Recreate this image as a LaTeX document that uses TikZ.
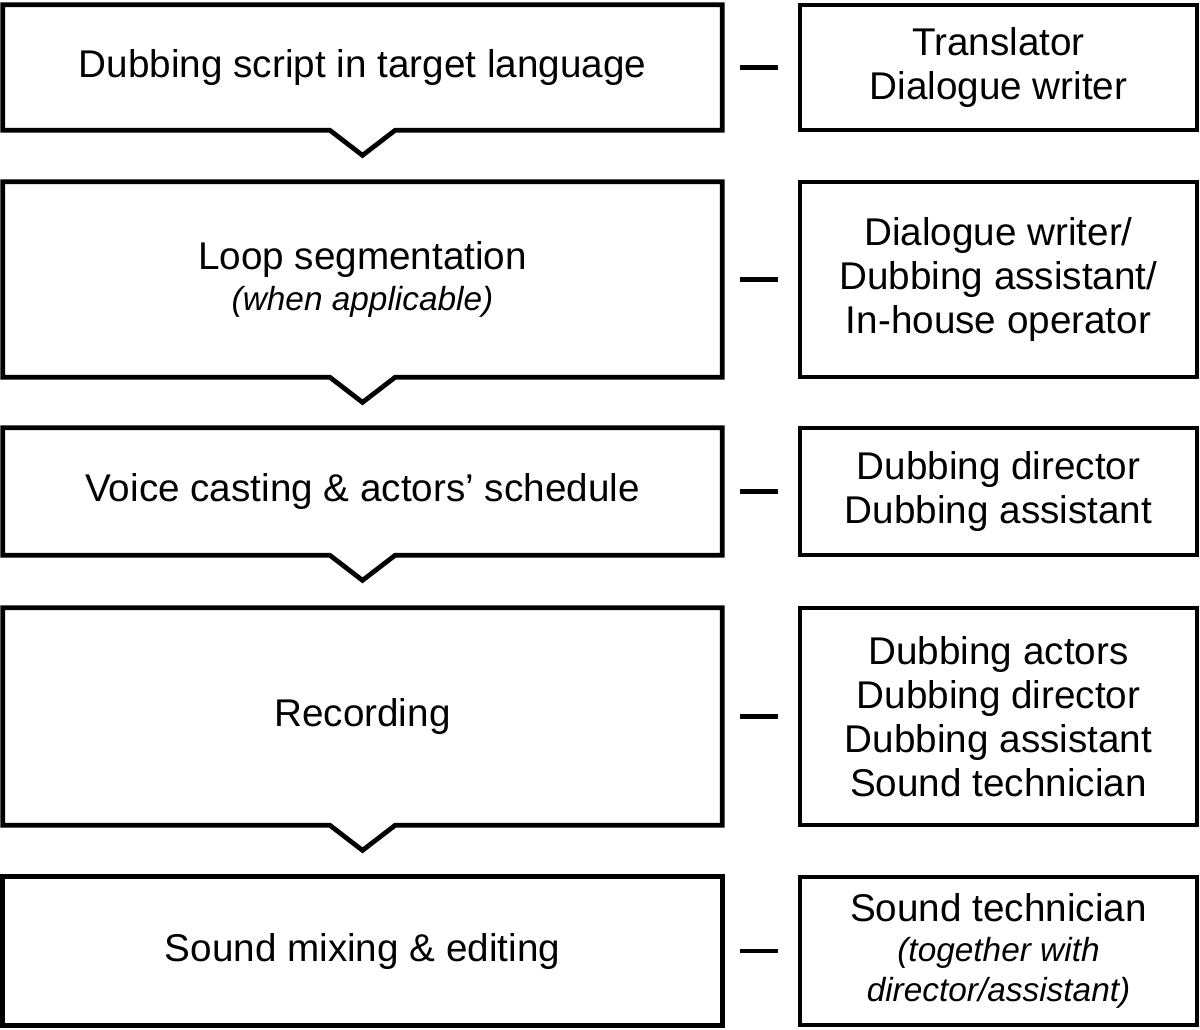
\documentclass[tikz,border=0pt]{standalone}
\usepackage{fontspec}
\setmainfont{Liberation Sans}
\usetikzlibrary{calc}

\newcommand{\aside}{\fontsize{19}{22}\selectfont\itshape}

\tikzset{
  stage/.style={minimum width=14.38cm, align=center, inner sep=0pt},
  role/.style={draw, line width=2.7pt, minimum width=7.94cm, align=center, inner sep=0pt},
}

\begin{document}
\begin{tikzpicture}[font=\fontsize{22}{25}\selectfont]
  \useasboundingbox (0,0) rectangle (24,-20.58);

  \node[stage, minimum height=2.5cm]  (s1) at (7.25,-1.35)  {Dubbing script in target language};
  \node[stage, minimum height=3.9cm]  (s2) at (7.25,-5.59)  {Loop segmentation\\[-2pt]{\aside (when applicable)}};
  \node[stage, minimum height=2.54cm] (s3) at (7.25,-9.83)  {Voice casting \& actors' schedule};
  \node[stage, minimum height=4.34cm] (s4) at (7.25,-14.33) {Recording};
  \node[stage, minimum height=2.96cm] (s5) at (7.25,-19.02) {Sound mixing \& editing};

  \node[role, minimum height=2.5cm]  (r1) at (19.97,-1.35)  {Translator\\Dialogue writer};
  \node[role, minimum height=3.9cm]  (r2) at (19.97,-5.59)  {Dialogue writer/\\Dubbing assistant/\\In-house operator};
  \node[role, minimum height=2.54cm] (r3) at (19.97,-9.83)  {Dubbing director\\Dubbing assistant};
  \node[role, minimum height=4.34cm] (r4) at (19.97,-14.33) {Dubbing actors\\Dubbing director\\Dubbing assistant\\Sound technician};
  \node[role, minimum height=2.96cm] (r5) at (19.97,-19.02) {Sound technician\\[-2pt]{\aside (together with}\\[-2pt]{\aside director/assistant)}};

  % stage boxes with a notch pointing down
  \foreach \s in {s1,s2,s3,s4}
    \draw[line width=2.7pt, line join=miter]
      (\s.north west) -- (\s.north east) -- (\s.south east)
      -- ($(\s.south)+(0.65,0)$) -- ($(\s.south)+(0,-0.5)$) -- ($(\s.south)+(-0.65,0)$)
      -- (\s.south west) -- cycle;
  \draw[line width=2.7pt] (s5.north west) rectangle (s5.south east);

  % dashes between stage and role
  \foreach \i in {1,...,5}
    \draw[line width=2.7pt] ($(s\i.east)+(0.36,0)$) -- ($(r\i.west)+(-0.4,0)$);
\end{tikzpicture}
\end{document}
